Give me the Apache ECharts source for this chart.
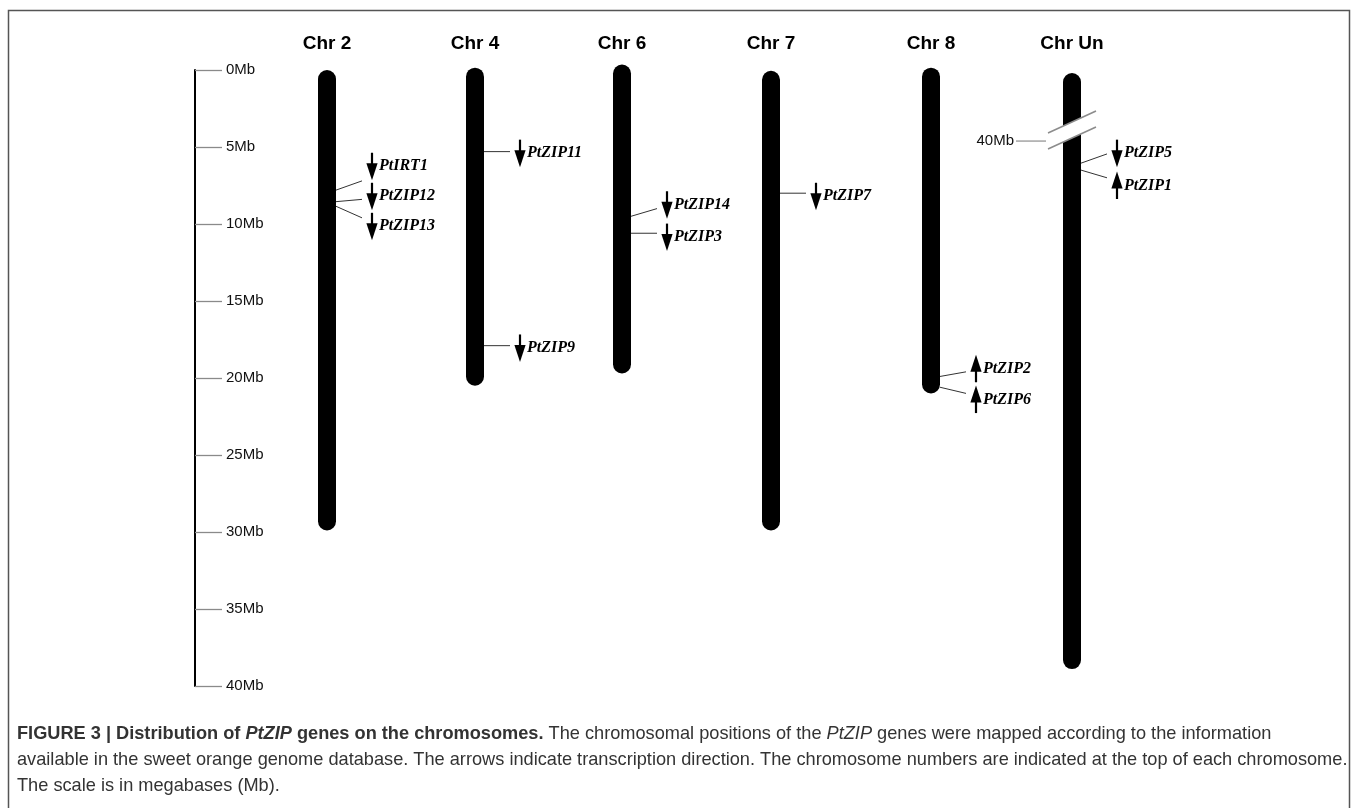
<!DOCTYPE html>
<html>
<head>
<meta charset="utf-8">
<script src="https://cdn.jsdelivr.net/npm/echarts@6/dist/echarts.min.js"></script>
<style>
  html, body { margin: 0; padding: 0; background: #fff; }
  #chart { width: 1358px; height: 808px; }
</style>
</head>
<body>
<div id="chart"></div>
<script>
// Chromosomes (display order) and their drawn extent in Mb
const chromosomes = ['Chr 2', 'Chr 4', 'Chr 6', 'Chr 7', 'Chr 8', 'Chr Un'];
const chrStart = [0.0, -0.15, -0.35, 0.05, -0.15, 0.2];
const chrEnd = [29.9, 20.5, 19.7, 29.9, 21.0, 38.9];

// Scale bar
const scaleMin = 0;
const scaleMax = 40;
const scaleStep = 5;

// Scaffold break on Chr Un, with the coordinate at which the drawn part resumes
const breakChr = 'Chr Un';
const breakAt = 3.9;
const breakLabel = '40Mb';

// PtZIP genes: chromosome, position (Mb), strand
const geneNames = ['PtIRT1', 'PtZIP12', 'PtZIP13', 'PtZIP11', 'PtZIP9', 'PtZIP14', 'PtZIP3', 'PtZIP7', 'PtZIP2', 'PtZIP6', 'PtZIP5', 'PtZIP1'];
const geneChr = ['Chr 2', 'Chr 2', 'Chr 2', 'Chr 4', 'Chr 4', 'Chr 6', 'Chr 6', 'Chr 7', 'Chr 8', 'Chr 8', 'Chr Un', 'Chr Un'];
const genePos = [7.8, 8.55, 8.85, 5.3, 17.9, 9.5, 10.6, 8.0, 19.9, 20.6, 6.05, 6.5];
const geneStrand = ['-', '-', '-', '-', '-', '-', '-', '-', '+', '+', '-', '+'];

// Label layout (Mb on the same scale): where each leader line ends and where its arrow/label sits
const leaderEnd = [7.2, 8.4, 9.6, 5.3, 17.9, 9.0, 10.6, 8.0, 19.6, 21.0, 5.45, 7.0];
const labelAt = [6.25, 8.2, 10.15, 5.4, 18.05, 8.75, 10.85, 8.2, 19.4, 21.4, 5.4, 7.5];

// Horizontal fine-tuning of each column (px) relative to its category slot
const colShift = [0, -1, -3, -3, 8, 0];

const BAR_W = 18;
const SANS = '"Liberation Sans", Arial, sans-serif';

const chart = echarts.init(document.getElementById('chart'), null, { renderer: 'canvas' });

function renderChromosome(params, api) {
  const i = api.value(0);
  const p0 = api.coord([i, api.value(1)]);
  const p1 = api.coord([i, api.value(2)]);
  const x = p0[0] + colShift[i];
  const top = api.coord([i, scaleMin])[1];
  return {
    type: 'group',
    children: [
      { type: 'rect', shape: { x: x - BAR_W / 2, y: p0[1], width: BAR_W, height: p1[1] - p0[1], r: BAR_W / 2 },
        style: { fill: '#000' } },
      { type: 'text', x: x, y: top - 26,
        style: { text: chromosomes[i], align: 'center', verticalAlign: 'middle', font: 'bold 19px ' + SANS, fill: '#000' } }
    ]
  };
}

function renderBreak(params, api) {
  const i = api.value(0);
  const c = api.coord([i, api.value(1)]);
  const cx = c[0] + colShift[i], cy = c[1];
  const hw = 24, dy = 11, gap = 8;
  return {
    type: 'group',
    children: [
      { type: 'polygon', shape: { points: [[cx - hw, cy + dy - gap], [cx + hw, cy - dy - gap], [cx + hw, cy - dy + gap], [cx - hw, cy + dy + gap]] },
        style: { fill: '#fff' } },
      { type: 'line', shape: { x1: cx - hw, y1: cy + dy - gap, x2: cx + hw, y2: cy - dy - gap }, style: { stroke: '#8c8c8c', lineWidth: 1.6 } },
      { type: 'line', shape: { x1: cx - hw, y1: cy + dy + gap, x2: cx + hw, y2: cy - dy + gap }, style: { stroke: '#8c8c8c', lineWidth: 1.6 } },
      { type: 'line', shape: { x1: cx - 56, y1: cy + dy, x2: cx - 26, y2: cy + dy }, style: { stroke: '#777', lineWidth: 1 } },
      { type: 'text', x: cx - 58, y: cy + dy,
        style: { text: breakLabel, align: 'right', verticalAlign: 'middle', font: '15px ' + SANS, fill: '#111' } }
    ]
  };
}

function renderGene(params, api) {
  const k = params.dataIndex;
  const i = api.value(0);
  const c = api.coord([i, api.value(1)]);
  const e = api.coord([i, api.value(2)]);
  const l = api.coord([i, api.value(3)]);
  const cx = c[0] + colShift[i];
  const ax = cx + 45;
  const ly = l[1];
  const down = geneStrand[k] === '-';
  const s = down ? 1 : -1;
  const tip = ly + s * 14;
  const base = ly - s * 3;
  return {
    type: 'group',
    children: [
      { type: 'line', shape: { x1: cx + BAR_W / 2, y1: c[1], x2: cx + 35, y2: e[1] }, style: { stroke: '#333', lineWidth: 1 } },
      { type: 'line', shape: { x1: ax, y1: ly - s * 13.5, x2: ax, y2: base + s * 2 }, style: { stroke: '#000', lineWidth: 2.2 } },
      { type: 'polygon', shape: { points: [[ax - 5.6, base], [ax + 5.6, base], [ax, tip]] }, style: { fill: '#000' } },
      { type: 'text', x: ax + 7, y: ly,
        style: { text: geneNames[k], align: 'left', verticalAlign: 'middle',
                 font: 'italic bold 16px "Liberation Serif", "Times New Roman", serif', fill: '#000' } }
    ]
  };
}

const CAP = 18.2;
const captionRich = {
  b: { fontWeight: 'bold', fontFamily: SANS, fontSize: CAP, color: '#111' },
  bi: { fontWeight: 'bold', fontStyle: 'italic', fontFamily: SANS, fontSize: CAP, color: '#111' },
  i: { fontStyle: 'italic', fontFamily: SANS, fontSize: CAP, color: '#333' },
  n: { fontFamily: SANS, fontSize: CAP, color: '#333' }
};

const captionText =
  '{b|FIGURE 3 | Distribution of }{bi|PtZIP}{b| genes on the chromosomes.}{n| The chromosomal positions of the }{i|PtZIP}{n| genes were mapped according to the information}\n' +
  '{n|available in the sweet orange genome database. The arrows indicate transcription direction. The chromosome numbers are indicated at the top of each chromosome.}\n' +
  '{n|The scale is in megabases (Mb).}';

const option = {
  backgroundColor: '#fff',
  animation: false,
  grid: { left: 252.5, right: 211.5, top: 70, bottom: 122 },
  xAxis: {
    type: 'category',
    data: chromosomes,
    position: 'top',
    boundaryGap: true,
    axisLine: { show: false },
    axisTick: { show: false },
    splitLine: { show: false },
    axisLabel: { show: false }
  },
  yAxis: {
    type: 'value',
    inverse: true,
    min: scaleMin,
    max: scaleMax,
    interval: scaleStep,
    position: 'left',
    offset: 57.5,
    axisLine: { show: true, lineStyle: { color: '#000', width: 2 } },
    axisTick: { show: true, inside: true, length: 27, lineStyle: { color: '#8a8a8a', width: 1.3 } },
    splitLine: { show: false },
    axisLabel: { inside: true, margin: 31, fontSize: 15, color: '#111', fontFamily: SANS,
                 formatter: v => v + 'Mb' }
  },
  series: [
    {
      type: 'custom',
      name: 'chromosomes',
      renderItem: renderChromosome,
      data: chromosomes.map((c, i) => [i, chrStart[i], chrEnd[i]]),
      z: 2
    },
    {
      type: 'custom',
      name: 'break',
      renderItem: renderBreak,
      data: [[chromosomes.indexOf(breakChr), breakAt]],
      z: 3
    },
    {
      type: 'custom',
      name: 'genes',
      renderItem: renderGene,
      data: geneNames.map((g, k) => [chromosomes.indexOf(geneChr[k]), genePos[k], leaderEnd[k], labelAt[k]]),
      z: 4
    }
  ],
  graphic: [
    { type: 'rect', shape: { x: 8.5, y: 10.5, width: 1341, height: 820 }, style: { fill: 'none', stroke: '#555', lineWidth: 1.5 }, silent: true },
    { type: 'text', left: 17, top: 721,
      style: { text: captionText, rich: captionRich, lineHeight: 26, font: CAP + 'px ' + SANS, fill: '#333' } }
  ]
};

chart.setOption(option);
</script>
</body>
</html>
